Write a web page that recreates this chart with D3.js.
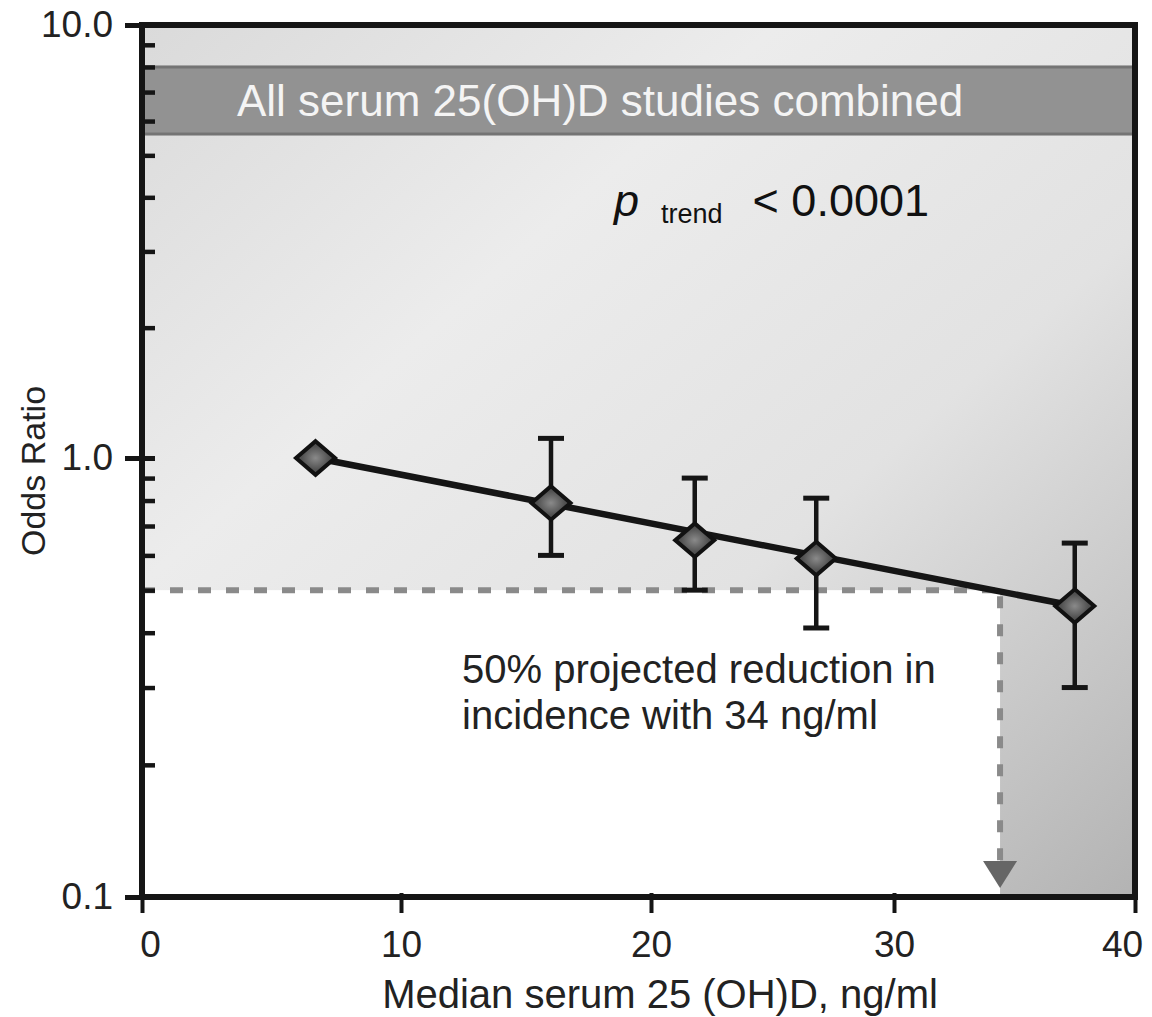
<!DOCTYPE html>
<html>
<head>
<meta charset="utf-8">
<script src="https://cdn.jsdelivr.net/npm/d3@7/dist/d3.min.js"></script>
<style>
  html, body { margin: 0; padding: 0; background: #ffffff; }
  svg { display: block; font-family: "Liberation Sans", Arial, sans-serif; }
</style>
</head>
<body>
<svg id="chart" width="1152" height="1017"></svg>
<script>
// Median serum 25(OH)D (ng/ml) per quintile and pooled odds ratios with 95% CI
const medianSerum = [6.7, 16.0, 21.8, 26.8, 37.5];
const oddsRatio   = [1.00, 0.79, 0.65, 0.59, 0.46];
const ciLower     = [null, 0.60, 0.50, 0.41, 0.30];
const ciUpper     = [null, 1.11, 0.90, 0.81, 0.64];

// Fitted dose-response trend (end points)
const trendSerum = [6.7, 37.5];
const trendOR    = [1.00, 0.46];

// Projection: 50% reduction reached at about 34 ng/ml
const projSerum = 34.4;
const projOR    = 0.5;

// Axis ticks
const xTicks = [0, 10, 20, 30, 40];
const yMajorTicks = [0.1, 1, 10];
const yMinorTicks = [0.2, 0.3, 0.4, 0.5, 0.6, 0.7, 0.8, 0.9, 2, 3, 4, 5, 6, 7, 8, 9];

// Band of the header caption, in odds-ratio units
const bandOR = [5.6, 8.0];

const svg = d3.select("#chart");
const plotLeft = 142, plotRight = 1135, plotTop = 25, plotBottom = 897;

const x = d3.scaleLinear()
  .domain(xTicks)
  .range([plotLeft, 401, 651, 894, plotRight]);

const y = d3.scaleLog()
  .domain([0.1, 1, 10])
  .range([plotBottom, 458, plotTop]);

// ---- background ----
const defs = svg.append("defs");
const bg = defs.append("linearGradient").attr("id", "bgGrad")
  .attr("x1", "0").attr("y1", "0").attr("x2", "1").attr("y2", "1");
bg.append("stop").attr("offset", "0").attr("stop-color", "#dadada");
bg.append("stop").attr("offset", "0.32").attr("stop-color", "#ececec");
bg.append("stop").attr("offset", "0.62").attr("stop-color", "#e2e2e2");
bg.append("stop").attr("offset", "1").attr("stop-color", "#b3b3b3");

const dg = defs.append("radialGradient").attr("id", "diamondGrad");
dg.append("stop").attr("offset", "0").attr("stop-color", "#8a8a8a");
dg.append("stop").attr("offset", "1").attr("stop-color", "#505050");

svg.append("rect")
  .attr("x", plotLeft).attr("y", plotTop)
  .attr("width", plotRight - plotLeft).attr("height", plotBottom - plotTop)
  .attr("fill", "url(#bgGrad)");

// white area below the projected threshold
svg.append("rect")
  .attr("x", x(0)).attr("y", y(projOR))
  .attr("width", x(projSerum) - x(0))
  .attr("height", y(0.1) - y(projOR))
  .attr("fill", "#ffffff");

// ---- header band ----
svg.append("rect")
  .attr("x", plotLeft).attr("y", y(bandOR[1]))
  .attr("width", plotRight - plotLeft)
  .attr("height", y(bandOR[0]) - y(bandOR[1]))
  .attr("fill", "#929292")
  .attr("stroke", "#747474").attr("stroke-width", 3);

svg.append("text")
  .attr("x", 237).attr("y", (y(bandOR[0]) + y(bandOR[1])) / 2 + 16)
  .attr("fill", "#f4f4f4")
  .attr("font-size", 44)
  .text("All serum 25(OH)D studies combined");

// ---- p trend ----
const pt = svg.append("text").attr("x", 614).attr("y", 216).attr("fill", "#111");
pt.append("tspan").attr("font-style", "italic").attr("font-size", 45).text("p");
pt.append("tspan").attr("font-size", 27).attr("dx", 22).attr("dy", 7).text("trend");
pt.append("tspan").attr("font-size", 45).attr("dx", 30).attr("dy", -7).text("< 0.0001");

// ---- projection guides ----
svg.append("line")
  .attr("x1", x(0)).attr("x2", x(projSerum))
  .attr("y1", y(projOR)).attr("y2", y(projOR))
  .attr("stroke", "#8a8a8a").attr("stroke-width", 6)
  .attr("stroke-dasharray", "13 15");

svg.append("line")
  .attr("x1", x(projSerum)).attr("x2", x(projSerum))
  .attr("y1", y(projOR) + 6).attr("y2", y(0.1) - 30)
  .attr("stroke", "#8a8a8a").attr("stroke-width", 6)
  .attr("stroke-dasharray", "12 16");

const ax = x(projSerum), ay = y(0.1) - 9;
svg.append("path")
  .attr("d", `M${ax - 17},${ay - 27} L${ax + 17},${ay - 27} L${ax},${ay} Z`)
  .attr("fill", "#666666");

svg.append("text")
  .attr("x", 462).attr("y", 683)
  .attr("font-size", 40).attr("fill", "#222")
  .selectAll("tspan")
  .data(["50% projected reduction in", "incidence with 34 ng/ml"])
  .join("tspan")
  .attr("x", 462)
  .attr("dy", (d, i) => i === 0 ? 0 : 46)
  .text(d => d);

// ---- trend line ----
const trend = trendSerum.map((v, i) => [v, trendOR[i]]);
svg.append("path")
  .datum(trend)
  .attr("d", d3.line().x(d => x(d[0])).y(d => y(d[1])))
  .attr("fill", "none")
  .attr("stroke", "#151515").attr("stroke-width", 6.5);

// ---- error bars ----
const pts = medianSerum.map((v, i) => ({
  x: v, or: oddsRatio[i], lo: ciLower[i], hi: ciUpper[i]
}));
const eb = svg.append("g").attr("stroke", "#151515").attr("stroke-width", 4.5);
pts.filter(d => d.lo !== null).forEach(d => {
  const cx = x(d.x);
  eb.append("line").attr("x1", cx).attr("x2", cx).attr("y1", y(d.hi)).attr("y2", y(d.lo));
  eb.append("line").attr("x1", cx - 13).attr("x2", cx + 13).attr("y1", y(d.hi)).attr("y2", y(d.hi)).attr("stroke-width", 5);
  eb.append("line").attr("x1", cx - 13).attr("x2", cx + 13).attr("y1", y(d.lo)).attr("y2", y(d.lo)).attr("stroke-width", 5);
});

// ---- diamond markers ----
const diamond = d3.symbol().type(d3.symbolSquare).size(760);
svg.append("g").selectAll("path")
  .data(pts)
  .join("path")
  .attr("d", diamond)
  .attr("transform", d => `translate(${x(d.x)},${y(d.or)}) scale(1,0.86) rotate(45)`)
  .attr("fill", "url(#diamondGrad)")
  .attr("stroke", "#111")
  .attr("stroke-width", 4)
  .attr("vector-effect", "non-scaling-stroke");

// ---- axes ----
const yAxis = d3.axisLeft(y)
  .tickValues(yMajorTicks)
  .tickFormat(d3.format(".1f"))
  .tickSize(17)
  .tickPadding(12);
const gy = svg.append("g").attr("transform", `translate(${plotLeft},0)`).call(yAxis);
gy.select(".domain").remove();
gy.selectAll(".tick line").attr("x1", 13).attr("stroke", "#151515").attr("stroke-width", 5);
gy.selectAll(".tick text").attr("font-size", 37).attr("fill", "#222")
  .attr("font-family", "Liberation Sans, Arial, sans-serif");

const yMinor = d3.axisRight(y).tickValues(yMinorTicks).tickSize(13).tickFormat("");
const gym = svg.append("g").attr("transform", `translate(${plotLeft},0)`).call(yMinor);
gym.select(".domain").remove();
gym.selectAll(".tick line").attr("stroke", "#151515").attr("stroke-width", 4.5);

const xAxis = d3.axisBottom(x)
  .tickValues(xTicks)
  .tickFormat(d3.format("d"))
  .tickSize(16)
  .tickPadding(18);
const gx = svg.append("g").attr("transform", `translate(0,${plotBottom})`).call(xAxis);
gx.select(".domain").remove();
gx.selectAll(".tick line").attr("y1", -4).attr("stroke", "#151515").attr("stroke-width", 4);
gx.selectAll(".tick text").attr("font-size", 37).attr("fill", "#222")
  .attr("font-family", "Liberation Sans, Arial, sans-serif")
  // keep the end labels inside the figure
  .attr("dx", d => d === xTicks[0] ? 8 : d === xTicks[xTicks.length - 1] ? -13 : 0);

// plot frame
svg.append("rect")
  .attr("x", plotLeft).attr("y", plotTop)
  .attr("width", plotRight - plotLeft).attr("height", plotBottom - plotTop)
  .attr("fill", "none")
  .attr("stroke", "#151515").attr("stroke-width", 6);

// ---- axis titles ----
svg.append("text")
  .attr("x", 660).attr("y", 1008)
  .attr("text-anchor", "middle")
  .attr("font-size", 40).attr("fill", "#222")
  .text("Median serum 25 (OH)D, ng/ml");

svg.append("text")
  .attr("transform", "translate(45,471) rotate(-90)")
  .attr("text-anchor", "middle")
  .attr("font-size", 34).attr("fill", "#222")
  .text("Odds Ratio");
</script>
</body>
</html>
